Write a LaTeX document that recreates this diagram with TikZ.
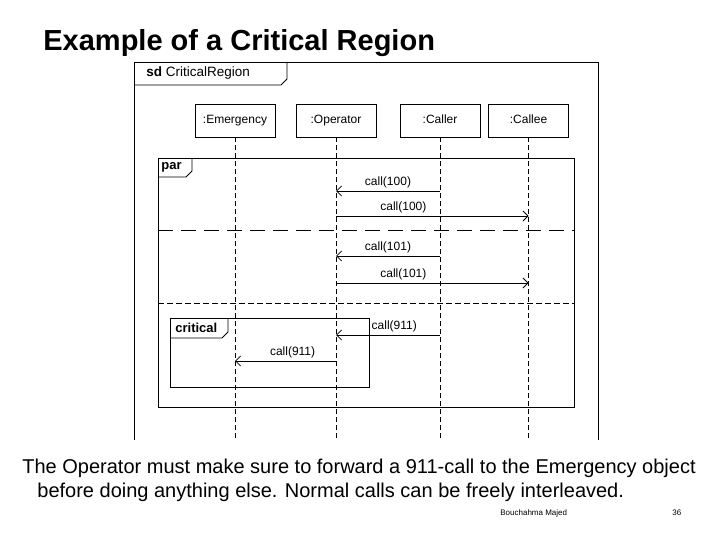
\documentclass[tikz,border=0pt]{standalone}
\usepackage{fontspec}
\setmainfont{Liberation Sans}
\usetikzlibrary{arrows.meta, positioning}

\begin{document}
\begin{tikzpicture}[
    x=1pt, y=-1pt,
    line width=0.8pt,
    head/.style={draw, minimum width=80pt, minimum height=33pt, inner sep=0pt,
        text height=9pt, text depth=2.5pt, font=\fontsize{12}{14}\selectfont},
    lifeline/.style={dash pattern=on 5pt off 3pt},
    msg/.style={-{Straight Barb[length=5pt, width=10pt]}},
    msglabel/.style={font=\fontsize{12}{14}\selectfont, inner sep=3pt},
    tabtext/.style={anchor=west, inner sep=0pt, font=\bfseries\fontsize{13}{15}\selectfont}
]
\useasboundingbox (0,0) rectangle (720,540);

% title
\node[anchor=base west, inner sep=0pt, font=\bfseries\fontsize{29}{34}\selectfont] (title) at (43,51) {Example of a Critical Region};

% sd frame
\draw (134,440) -- (134,62) -- (598,62) -- (598,440);
\draw (134,85) -- (281,85) -- (287,79) -- (287,62);
\node[tabtext, font=\fontsize{13.5}{15}\selectfont] (sdname) at (146,73) {\textbf{sd} CriticalRegion};

% lifelines
\node[head] (emer) at (235,120.5) {:Emergency};
\node[head] (oper) at (336,120.5) {:Operator};
\node[head] (caller) at (440,120.5) {:Caller};
\node[head] (callee) at (528.5,120.5) {:Callee};
\coordinate (bottom) at (0,440);
\foreach \l in {emer, oper, caller, callee}
    \draw[lifeline] (\l.south) -- (\l.south |- bottom);

% par fragment
\draw (158,158) rectangle (574,407);
\draw (158,177) -- (186,177) -- (192,171) -- (192,158);
\node[tabtext] (par) at (161,167) {par};
\coordinate (sep1) at (158,230);
\coordinate (sep2) at (158,303);
\draw[dash pattern=on 15pt off 8pt] (sep1) -- ++(416,0);
\draw[dash pattern=on 6pt off 3pt] (sep2) -- ++(416,0);

% critical fragment
\draw (170,318) rectangle (369,387);
\draw (170,338) -- (222,338) -- (228,332) -- (228,318);
\node[tabtext] (crit) at (175,328) {critical};

% messages
\coordinate (m1) at (0,191);
\coordinate (m2) at (0,216);
\coordinate (m3) at (0,256);
\coordinate (m4) at (0,283);
\coordinate (m5) at (0,335);
\coordinate (m6) at (0,361);
\draw[msg] (caller |- m1) -- node[msglabel, above] {call(100)} (oper |- m1);
\draw[msg] (oper |- m2) -- node[msglabel, above, pos=0.35] {call(100)} (callee |- m2);
\draw[msg] (caller |- m3) -- node[msglabel, above] {call(101)} (oper |- m3);
\draw[msg] (oper |- m4) -- node[msglabel, above, pos=0.35] {call(101)} (callee |- m4);
\draw[msg] (caller |- m5) -- node[msglabel, above, pos=0.44] {call(911)} (oper |- m5);
\draw[msg] (oper |- m6) -- node[msglabel, above, pos=0.43] {call(911)} (emer |- m6);

% caption
\node[anchor=base west, inner sep=0pt, font=\fontsize{20}{24}\selectfont] (cap1) at (22,473)
    {The Operator must make sure to forward a 911-call to the Emergency object};
\node[anchor=base west, inner sep=0pt, font=\fontsize{20}{24}\selectfont] (cap2) at (37,497)
    {before doing anything else. Normal calls can be freely interleaved.};

% footer
\node[anchor=west, inner sep=0pt, font=\fontsize{8}{10}\selectfont] (author) at (500,513) {Bouchahma Majed};
\node[anchor=west, inner sep=0pt, font=\fontsize{8}{10}\selectfont] (page) at (672,513) {36};
\end{tikzpicture}
\end{document}
